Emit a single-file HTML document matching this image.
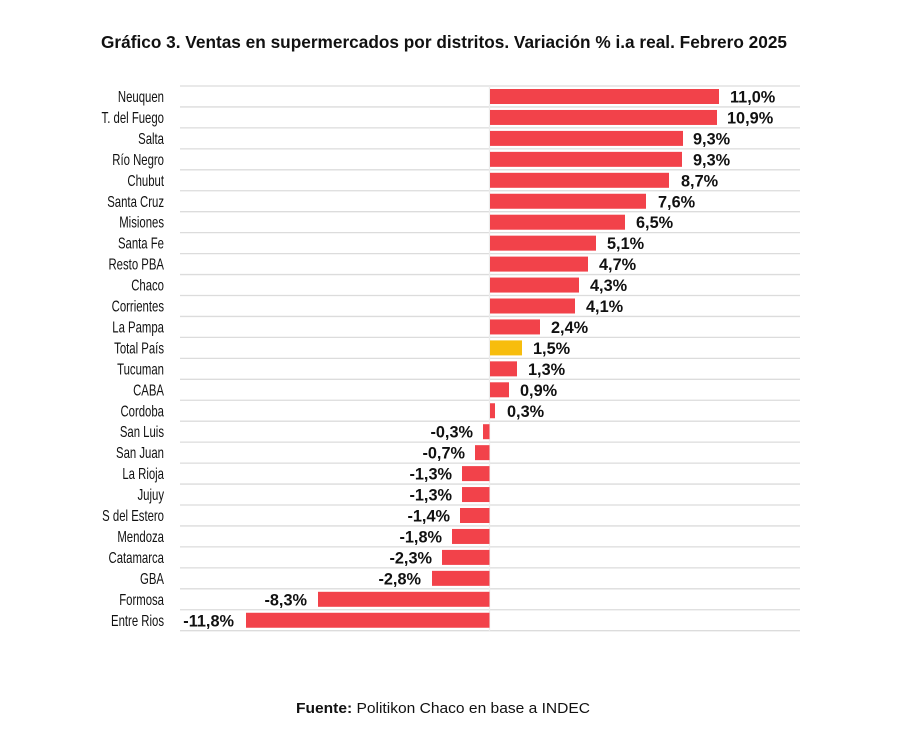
<!DOCTYPE html>
<html><head><meta charset="utf-8"><style>
html,body{margin:0;padding:0;background:#fff;}
svg{display:block;font-family:"Liberation Sans",Arial,sans-serif;}
.c{font-size:16px;fill:#111;text-anchor:end;}
.v{font-size:16.3px;font-weight:bold;fill:#111;}
.n{font-size:16.3px;fill:#111;text-anchor:end;font-weight:bold;}
.g{stroke:#dcdcdc;stroke-width:1.3;}
</style></head><body>
<svg width="900" height="747" viewBox="0 0 900 747">
<text x="101" y="48" font-size="17.5" font-weight="bold" fill="#111" textLength="686" lengthAdjust="spacingAndGlyphs">Gráfico 3. Ventas en supermercados por distritos. Variación % i.a real. Febrero 2025</text>
<g class="g">
<line x1="180" x2="800" y1="86" y2="86"/><line x1="180" x2="800" y1="106.95" y2="106.95"/><line x1="180" x2="800" y1="127.9" y2="127.9"/><line x1="180" x2="800" y1="148.85" y2="148.85"/><line x1="180" x2="800" y1="169.8" y2="169.8"/><line x1="180" x2="800" y1="190.75" y2="190.75"/><line x1="180" x2="800" y1="211.7" y2="211.7"/><line x1="180" x2="800" y1="232.65" y2="232.65"/><line x1="180" x2="800" y1="253.6" y2="253.6"/><line x1="180" x2="800" y1="274.55" y2="274.55"/><line x1="180" x2="800" y1="295.5" y2="295.5"/><line x1="180" x2="800" y1="316.45" y2="316.45"/><line x1="180" x2="800" y1="337.4" y2="337.4"/><line x1="180" x2="800" y1="358.35" y2="358.35"/><line x1="180" x2="800" y1="379.3" y2="379.3"/><line x1="180" x2="800" y1="400.25" y2="400.25"/><line x1="180" x2="800" y1="421.2" y2="421.2"/><line x1="180" x2="800" y1="442.15" y2="442.15"/><line x1="180" x2="800" y1="463.1" y2="463.1"/><line x1="180" x2="800" y1="484.05" y2="484.05"/><line x1="180" x2="800" y1="505" y2="505"/><line x1="180" x2="800" y1="525.95" y2="525.95"/><line x1="180" x2="800" y1="546.9" y2="546.9"/><line x1="180" x2="800" y1="567.85" y2="567.85"/><line x1="180" x2="800" y1="588.8" y2="588.8"/><line x1="180" x2="800" y1="609.75" y2="609.75"/><line x1="180" x2="800" y1="630.7" y2="630.7"/>
<line x1="489.5" x2="489.5" y1="86" y2="631" stroke="#ececec"/>
</g>
<g transform="translate(0,96.5)"><text class="c" x="164" y="5.5" transform="matrix(0.71,0,0,1,47.56,0)">Neuquen</text><rect x="490" y="-7.5" width="229" height="15" fill="#f2424a"/><text class="v" x="730" y="6">11,0%</text></g>
<g transform="translate(0,117.45)"><text class="c" x="164" y="5.5" transform="matrix(0.71,0,0,1,47.56,0)">T. del Fuego</text><rect x="490" y="-7.5" width="227" height="15" fill="#f2424a"/><text class="v" x="727" y="6">10,9%</text></g>
<g transform="translate(0,138.4)"><text class="c" x="164" y="5.5" transform="matrix(0.71,0,0,1,47.56,0)">Salta</text><rect x="490" y="-7.5" width="193" height="15" fill="#f2424a"/><text class="v" x="693" y="6">9,3%</text></g>
<g transform="translate(0,159.35)"><text class="c" x="164" y="5.5" transform="matrix(0.71,0,0,1,47.56,0)">Río Negro</text><rect x="490" y="-7.5" width="192" height="15" fill="#f2424a"/><text class="v" x="693" y="6">9,3%</text></g>
<g transform="translate(0,180.3)"><text class="c" x="164" y="5.5" transform="matrix(0.71,0,0,1,47.56,0)">Chubut</text><rect x="490" y="-7.5" width="179" height="15" fill="#f2424a"/><text class="v" x="681" y="6">8,7%</text></g>
<g transform="translate(0,201.25)"><text class="c" x="164" y="5.5" transform="matrix(0.71,0,0,1,47.56,0)">Santa Cruz</text><rect x="490" y="-7.5" width="156" height="15" fill="#f2424a"/><text class="v" x="658" y="6">7,6%</text></g>
<g transform="translate(0,222.2)"><text class="c" x="164" y="5.5" transform="matrix(0.71,0,0,1,47.56,0)">Misiones</text><rect x="490" y="-7.5" width="135" height="15" fill="#f2424a"/><text class="v" x="636" y="6">6,5%</text></g>
<g transform="translate(0,243.15)"><text class="c" x="164" y="5.5" transform="matrix(0.71,0,0,1,47.56,0)">Santa Fe</text><rect x="490" y="-7.5" width="106" height="15" fill="#f2424a"/><text class="v" x="607" y="6">5,1%</text></g>
<g transform="translate(0,264.1)"><text class="c" x="164" y="5.5" transform="matrix(0.71,0,0,1,47.56,0)">Resto PBA</text><rect x="490" y="-7.5" width="98" height="15" fill="#f2424a"/><text class="v" x="599" y="6">4,7%</text></g>
<g transform="translate(0,285.05)"><text class="c" x="164" y="5.5" transform="matrix(0.71,0,0,1,47.56,0)">Chaco</text><rect x="490" y="-7.5" width="89" height="15" fill="#f2424a"/><text class="v" x="590" y="6">4,3%</text></g>
<g transform="translate(0,306)"><text class="c" x="164" y="5.5" transform="matrix(0.71,0,0,1,47.56,0)">Corrientes</text><rect x="490" y="-7.5" width="85" height="15" fill="#f2424a"/><text class="v" x="586" y="6">4,1%</text></g>
<g transform="translate(0,326.95)"><text class="c" x="164" y="5.5" transform="matrix(0.71,0,0,1,47.56,0)">La Pampa</text><rect x="490" y="-7.5" width="50" height="15" fill="#f2424a"/><text class="v" x="551" y="6">2,4%</text></g>
<g transform="translate(0,347.9)"><text class="c" x="164" y="5.5" transform="matrix(0.71,0,0,1,47.56,0)">Total País</text><rect x="490" y="-7.5" width="32" height="15" fill="#f7bd0d"/><text class="v" x="533" y="6">1,5%</text></g>
<g transform="translate(0,368.85)"><text class="c" x="164" y="5.5" transform="matrix(0.71,0,0,1,47.56,0)">Tucuman</text><rect x="490" y="-7.5" width="27" height="15" fill="#f2424a"/><text class="v" x="528" y="6">1,3%</text></g>
<g transform="translate(0,389.8)"><text class="c" x="164" y="5.5" transform="matrix(0.71,0,0,1,47.56,0)">CABA</text><rect x="490" y="-7.5" width="19" height="15" fill="#f2424a"/><text class="v" x="520" y="6">0,9%</text></g>
<g transform="translate(0,410.75)"><text class="c" x="164" y="5.5" transform="matrix(0.71,0,0,1,47.56,0)">Cordoba</text><rect x="490" y="-7.5" width="5" height="15" fill="#f2424a"/><text class="v" x="507" y="6">0,3%</text></g>
<g transform="translate(0,431.7)"><text class="c" x="164" y="5.5" transform="matrix(0.71,0,0,1,47.56,0)">San Luis</text><rect x="483" y="-7.5" width="6.5" height="15" fill="#f2424a"/><text class="n" x="473" y="6">-0,3%</text></g>
<g transform="translate(0,452.65)"><text class="c" x="164" y="5.5" transform="matrix(0.71,0,0,1,47.56,0)">San Juan</text><rect x="475" y="-7.5" width="14.5" height="15" fill="#f2424a"/><text class="n" x="465" y="6">-0,7%</text></g>
<g transform="translate(0,473.6)"><text class="c" x="164" y="5.5" transform="matrix(0.71,0,0,1,47.56,0)">La Rioja</text><rect x="462" y="-7.5" width="27.5" height="15" fill="#f2424a"/><text class="n" x="452" y="6">-1,3%</text></g>
<g transform="translate(0,494.55)"><text class="c" x="164" y="5.5" transform="matrix(0.71,0,0,1,47.56,0)">Jujuy</text><rect x="462" y="-7.5" width="27.5" height="15" fill="#f2424a"/><text class="n" x="452" y="6">-1,3%</text></g>
<g transform="translate(0,515.5)"><text class="c" x="164" y="5.5" transform="matrix(0.71,0,0,1,47.56,0)">S del Estero</text><rect x="460" y="-7.5" width="29.5" height="15" fill="#f2424a"/><text class="n" x="450" y="6">-1,4%</text></g>
<g transform="translate(0,536.45)"><text class="c" x="164" y="5.5" transform="matrix(0.71,0,0,1,47.56,0)">Mendoza</text><rect x="452" y="-7.5" width="37.5" height="15" fill="#f2424a"/><text class="n" x="442" y="6">-1,8%</text></g>
<g transform="translate(0,557.4)"><text class="c" x="164" y="5.5" transform="matrix(0.71,0,0,1,47.56,0)">Catamarca</text><rect x="442" y="-7.5" width="47.5" height="15" fill="#f2424a"/><text class="n" x="432" y="6">-2,3%</text></g>
<g transform="translate(0,578.35)"><text class="c" x="164" y="5.5" transform="matrix(0.71,0,0,1,47.56,0)">GBA</text><rect x="432" y="-7.5" width="57.5" height="15" fill="#f2424a"/><text class="n" x="421" y="6">-2,8%</text></g>
<g transform="translate(0,599.3)"><text class="c" x="164" y="5.5" transform="matrix(0.71,0,0,1,47.56,0)">Formosa</text><rect x="318" y="-7.5" width="171.5" height="15" fill="#f2424a"/><text class="n" x="307" y="6">-8,3%</text></g>
<g transform="translate(0,620.25)"><text class="c" x="164" y="5.5" transform="matrix(0.71,0,0,1,47.56,0)">Entre Rios</text><rect x="246" y="-7.5" width="243.5" height="15" fill="#f2424a"/><text class="n" x="234" y="6">-11,8%</text></g>
<text x="296" y="713" font-size="15" fill="#111" textLength="294" lengthAdjust="spacingAndGlyphs"><tspan font-weight="bold">Fuente:</tspan> Politikon Chaco en base a INDEC</text>
</svg>
</body></html>
